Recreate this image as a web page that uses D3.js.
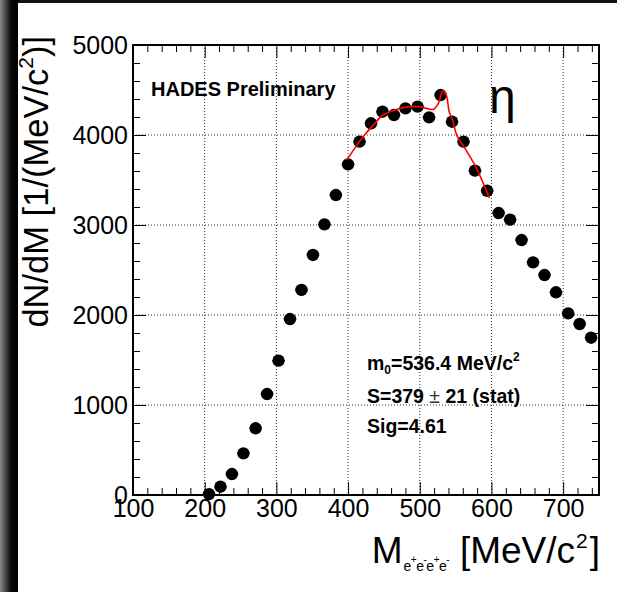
<!DOCTYPE html>
<html>
  <head>
    <title>HADES eta -> e+e-e+e-</title>
    <script src="https://d3js.org/d3.v7.min.js"></script>
    <style>
      body { margin: 0; background: #fff; }
      svg text { font-family: "Liberation Sans", Arial, sans-serif; }
    </style>
  </head>
  <body>
    <div id="chart"></div>
    <script>
      // Data
      var mass = [206, 222, 238, 254, 271, 287, 303, 319, 335, 351, 367, 383, 400, 416, 432, 448, 464, 480,
                  497, 513, 529, 545, 561, 577, 594, 610, 626, 642, 658, 674, 690, 707, 723, 739];
      var counts = [10, 92, 233, 463, 741, 1122, 1493, 1955, 2278, 2667, 3007, 3333, 3674, 3926, 4130, 4259, 4222, 4296,
                    4315, 4196, 4444, 4148, 3926, 3604, 3380, 3133, 3060, 2833, 2585, 2444, 2252, 2018, 1900, 1748];

      // red fit curve
      var fitMass = [398, 410, 421, 435, 449, 468, 485, 500, 510, 519, 526, 532, 537, 541, 545, 552, 560, 578, 597];
      var fitCounts = [3722, 3860, 3981, 4110, 4222, 4285, 4315, 4314, 4296, 4285, 4352, 4489, 4444, 4259, 4185, 3990, 3889, 3648, 3300];

      var xTicks = [100, 200, 300, 400, 500, 600, 700];
      var yTicks = [0, 1000, 2000, 3000, 4000, 5000];

      var svg = d3.select("#chart")
        .append("svg")
        .attr("width", 617)
        .attr("height", 592);

      svg.append("rect").attr("width", 617).attr("height", 592).attr("fill", "#fff");

      // dark slide edges
      var grad = svg.append("defs").append("linearGradient").attr("id", "edge");
      grad.append("stop").attr("offset", "0%").attr("stop-color", "#8a8a8a");
      grad.append("stop").attr("offset", "25%").attr("stop-color", "#555");
      grad.append("stop").attr("offset", "60%").attr("stop-color", "#0a0a0a");
      grad.append("stop").attr("offset", "100%").attr("stop-color", "#000");
      svg.append("rect").attr("x", 0).attr("y", 0).attr("width", 617).attr("height", 3).attr("fill", "#111");
      svg.append("rect").attr("x", 0).attr("y", 0).attr("width", 18).attr("height", 592).attr("fill", "url(#edge)");

      var xScale = d3.scaleLinear().domain([100, 750]).range([133, 599]);
      var yScale = d3.scaleLinear().domain([0, 5000]).range([495, 45]);

      // dotted grid
      var grid = svg.append("g")
        .attr("stroke", "#333")
        .attr("stroke-width", 1)
        .attr("stroke-dasharray", "1,2");
      grid.selectAll(".gx")
        .data(xTicks.slice(1))
        .enter()
        .append("line")
        .attr("x1", function(d) { return xScale(d); })
        .attr("x2", function(d) { return xScale(d); })
        .attr("y1", yScale(5000))
        .attr("y2", yScale(0));
      grid.selectAll(".gy")
        .data(yTicks.slice(1, -1))
        .enter()
        .append("line")
        .attr("x1", xScale(100))
        .attr("x2", xScale(750))
        .attr("y1", function(d) { return yScale(d); })
        .attr("y2", function(d) { return yScale(d); });

      // ticks
      var minorX = d3.range(120, 750, 20).filter(function(d) { return d % 100 !== 0; });
      var minorY = d3.range(200, 5000, 200).filter(function(d) { return d % 1000 !== 0; });

      function styleAxis(g) {
        g.select(".domain").remove();
        g.attr("font-size", 25).attr("font-family", "Liberation Sans, Arial, sans-serif");
        g.selectAll("line").attr("stroke", "#000");
        g.selectAll("text").attr("fill", "#000");
      }

      svg.append("g").attr("transform", "translate(0,495)")
        .call(d3.axisBottom(xScale).tickValues(xTicks).tickFormat(d3.format("d"))
          .tickSizeInner(-13).tickSizeOuter(0).tickPadding(4))
        .call(styleAxis);
      svg.append("g").attr("transform", "translate(0,495)")
        .call(d3.axisBottom(xScale).tickValues(minorX).tickSizeInner(-7).tickSizeOuter(0).tickFormat(""))
        .call(styleAxis);
      svg.append("g").attr("transform", "translate(0,45)")
        .call(d3.axisTop(xScale).tickValues(xTicks).tickSizeInner(-13).tickSizeOuter(0).tickFormat(""))
        .call(styleAxis);
      svg.append("g").attr("transform", "translate(0,45)")
        .call(d3.axisTop(xScale).tickValues(minorX).tickSizeInner(-7).tickSizeOuter(0).tickFormat(""))
        .call(styleAxis);

      svg.append("g").attr("transform", "translate(133,0)")
        .call(d3.axisLeft(yScale).tickValues(yTicks).tickFormat(d3.format("d"))
          .tickSizeInner(-13).tickSizeOuter(0).tickPadding(5))
        .call(styleAxis);
      svg.append("g").attr("transform", "translate(133,0)")
        .call(d3.axisLeft(yScale).tickValues(minorY).tickSizeInner(-7).tickSizeOuter(0).tickFormat(""))
        .call(styleAxis);
      svg.append("g").attr("transform", "translate(599,0)")
        .call(d3.axisRight(yScale).tickValues(yTicks).tickSizeInner(-13).tickSizeOuter(0).tickFormat(""))
        .call(styleAxis);
      svg.append("g").attr("transform", "translate(599,0)")
        .call(d3.axisRight(yScale).tickValues(minorY).tickSizeInner(-7).tickSizeOuter(0).tickFormat(""))
        .call(styleAxis);

      // frame
      svg.append("rect")
        .attr("x", xScale(100))
        .attr("y", yScale(5000))
        .attr("width", xScale(750) - xScale(100))
        .attr("height", yScale(0) - yScale(5000))
        .attr("fill", "none")
        .attr("stroke", "#000")
        .attr("stroke-width", 2);

      // data points with small x error bars
      var points = mass.map(function(m, i) { return { x: m, y: counts[i] }; });
      svg.selectAll(".err")
        .data(points)
        .enter()
        .append("line")
        .attr("x1", function(d) { return xScale(d.x - 9); })
        .attr("x2", function(d) { return xScale(d.x + 9); })
        .attr("y1", function(d) { return yScale(d.y); })
        .attr("y2", function(d) { return yScale(d.y); })
        .attr("stroke", "#00008b")
        .attr("stroke-width", 1);
      svg.selectAll(".pt")
        .data(points)
        .enter()
        .append("circle")
        .attr("cx", function(d) { return xScale(d.x); })
        .attr("cy", function(d) { return yScale(d.y); })
        .attr("r", 6.2)
        .attr("fill", "#000");

      // fit
      var fit = fitMass.map(function(m, i) { return [m, fitCounts[i]]; });
      svg.append("path")
        .datum(fit)
        .attr("fill", "none")
        .attr("stroke", "#f00")
        .attr("stroke-width", 1.6)
        .attr("d", d3.line()
          .x(function(d) { return xScale(d[0]); })
          .y(function(d) { return yScale(d[1]); })
          .curve(d3.curveCatmullRom));

      // texts
      svg.append("text").attr("x", 151).attr("y", 96)
        .attr("font-size", 20).attr("font-weight", "bold").text("HADES Preliminary");
      svg.append("text").attr("x", 489).attr("y", 113)
        .attr("font-size", 48).text("η");

      var t1 = svg.append("text").attr("x", 367).attr("y", 370)
        .attr("font-size", 19.5).attr("font-weight", "bold");
      t1.append("tspan").text("m");
      t1.append("tspan").attr("font-size", 12).attr("dy", 4).text("0");
      t1.append("tspan").attr("dy", -4).text("=536.4 MeV/c");
      t1.append("tspan").attr("font-size", 12).attr("dy", -9).text("2");

      var t2 = svg.append("text").attr("x", 367).attr("y", 403)
        .attr("font-size", 19.5).attr("font-weight", "bold");
      t2.append("tspan").text("S=379 ");
      t2.append("tspan").attr("font-weight", "normal").attr("fill", "#333").text("±");
      t2.append("tspan").text(" 21 (stat)");

      svg.append("text").attr("x", 367).attr("y", 433)
        .attr("font-size", 19.5).attr("font-weight", "bold").text("Sig=4.61");

      // axis titles
      var xt = svg.append("text").attr("x", 600).attr("y", 563)
        .attr("text-anchor", "end").attr("font-size", 37);
      xt.append("tspan").text("M");
      var sub = ["e", "+", "e", "-", "e", "+", "e", "-"];
      sub.forEach(function(s, i) {
        if (i % 2 === 0) {
          xt.append("tspan").attr("font-size", 14).attr("dy", 8).attr("dx", i === 0 ? 1 : -0.5).text(s);
        } else {
          xt.append("tspan").attr("font-size", 10).attr("dy", -8).attr("dx", -0.5).text(s);
        }
      });
      xt.append("tspan").attr("dx", 0).text(" [MeV/c");
      xt.append("tspan").attr("font-size", 21).attr("dy", -15).attr("dx", 1).text("2");
      xt.append("tspan").attr("dy", 15).attr("dx", 2).text("]");

      var yt = svg.append("text")
        .attr("transform", "translate(48,36) rotate(-90)")
        .attr("text-anchor", "end").attr("font-size", 34.5);
      yt.append("tspan").text("dN/dM [1/(MeV/c");
      yt.append("tspan").attr("font-size", 21).attr("dy", -15).text("2");
      yt.append("tspan").attr("dy", 15).text(")]");
    </script>
  </body>
</html>
